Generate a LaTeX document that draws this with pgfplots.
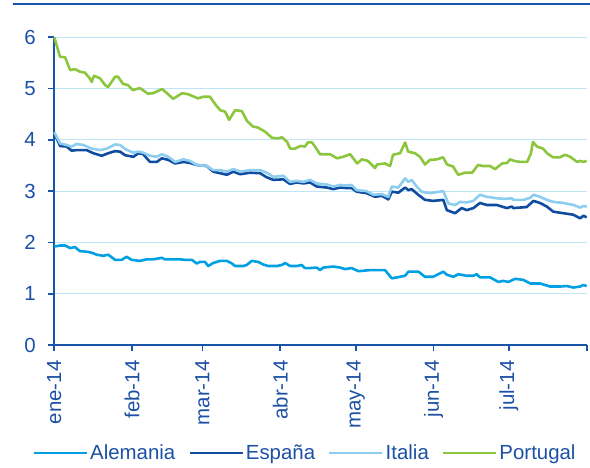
\documentclass[border=0pt]{standalone}
\usepackage{pgfplots}
\pgfplotsset{compat=1.18}
\usepackage{fontspec}
\setmainfont{Liberation Sans}
\definecolor{axblue}{RGB}{24,84,170}
\definecolor{txtblue}{RGB}{28,80,165}
\definecolor{gridblue}{RGB}{190,230,247}
\definecolor{cAle}{RGB}{0,160,227}
\definecolor{cEsp}{RGB}{16,76,160}
\definecolor{cIta}{RGB}{140,205,240}
\definecolor{cPor}{RGB}{140,198,63}
\begin{document}
\begin{tikzpicture}
\useasboundingbox (-54.3bp,-123bp) rectangle (535.7bp,345bp);
\draw[axblue, line width=2.2bp] (-41.3bp,341bp) -- (535.7bp,341bp);
\begin{axis}[
  at={(0,0)}, anchor=south west,
  scale only axis, width=532.4bp, height=307.7bp,
  xmin=0, xmax=212, ymin=0, ymax=6,
  axis x line*=bottom, axis y line*=left,
  axis line style={axblue, line width=1.8bp, -},
  xtick={0,31,59,90,120,151,181,212},
  xticklabels={ene-14,feb-14,mar-14,abr-14,may-14,jun-14,jul-14,{}},
  x tick label style={rotate=90, anchor=east},
  xticklabel shift=6bp,
  y tick label style={xshift=-9bp},
  ytick={0,1,2,3,4,5,6},
  tick align=outside, major tick length=6bp,
  tick style={axblue, line width=1.8bp},
  ymajorgrids, grid style={gridblue, line width=1.2bp},
  tick label style={font=\fontsize{20.5}{24}\selectfont, text=txtblue},
  /pgf/number format/assume math mode=true,
  legend columns=4,
  legend style={draw=none, fill=none, at={(0.471,-0.351)}, anchor=center,
    font=\fontsize{20.5}{24}\selectfont, text=txtblue,
    /tikz/every even column/.append style={column sep=11bp}},
  legend image code/.code={\draw[#1] (-2bp,0bp) -- (51bp,0bp);},
  every axis plot/.append style={line width=2.6bp, line join=round},
  clip=false,
]
\addplot[cAle] coordinates {
(0,1.92)(2.3,1.94)(4.3,1.94)(6.3,1.89)(8.2,1.91)(10.2,1.83)(12.9,1.82)(14.9,1.80)
(16.9,1.76)(19.5,1.74)(21.5,1.76)(24.2,1.66)(26.8,1.66)(28.8,1.72)(30.8,1.66)
(34.1,1.64)(36.8,1.67)(39.4,1.67)(42.8,1.70)(44.1,1.67)(47.4,1.67)(50.1,1.67)
(52.1,1.66)(54.8,1.66)(56.7,1.59)(58.0,1.62)(60.0,1.62)(61.3,1.54)(63.3,1.60)
(66.0,1.64)(68.7,1.64)(70.7,1.59)(72.0,1.54)(75.3,1.54)(76.6,1.56)(78.6,1.64)
(81.2,1.62)(83.2,1.57)(85.2,1.54)(88.6,1.54)(90.6,1.56)(91.9,1.60)(93.9,1.54)
(96.5,1.54)(98.5,1.56)(99.8,1.50)(101.8,1.50)(104.5,1.51)(105.8,1.46)(107.1,1.51)
(111.1,1.53)(113.8,1.51)(115.8,1.48)(118.4,1.50)(121.1,1.44)(125.7,1.46)(131.7,1.46)
(134.4,1.30)(137.7,1.33)(139.7,1.35)(141.0,1.43)(145.0,1.43)(147.6,1.33)(150.9,1.33)
(152.9,1.38)(154.9,1.43)(156.3,1.37)(158.9,1.33)(160.9,1.38)(164.2,1.35)(166.9,1.35)
(168.2,1.38)(169.5,1.32)(173.5,1.32)(176.8,1.23)(178.8,1.25)(180.8,1.23)(183.5,1.29)
(186.8,1.27)(189.5,1.20)(193.4,1.20)(197.4,1.14)(201.4,1.14)(204.1,1.15)(206.7,1.12)
(209.4,1.14)(210.7,1.17)(212.0,1.15)
};
\addlegendentry{Alemania}
\addplot[cEsp] coordinates {
(0,4.13)(2.3,3.88)(4.9,3.87)(6.9,3.79)(8.9,3.80)(12.9,3.80)(15.5,3.74)(18.9,3.69)
(21.5,3.74)(24.2,3.78)(26.2,3.77)(28.2,3.70)(31.5,3.67)(33.5,3.74)(35.4,3.72)
(38.1,3.57)(40.8,3.57)(42.8,3.64)(45.4,3.61)(48.1,3.54)(51.4,3.57)(54.0,3.55)
(56.7,3.51)(60.7,3.49)(63.3,3.38)(66.0,3.35)(68.7,3.32)(71.3,3.38)(74.0,3.33)
(77.9,3.36)(81.9,3.35)(84.6,3.27)(87.2,3.22)(91.2,3.23)(93.9,3.14)(96.5,3.17)
(99.2,3.15)(101.8,3.17)(104.5,3.09)(108.5,3.07)(111.1,3.04)(113.8,3.07)(116.4,3.06)
(118.4,3.06)(120.4,2.99)(124.4,2.96)(127.7,2.89)(130.4,2.91)(133.0,2.84)(134.4,2.99)
(137.0,2.97)(139.7,3.07)(141.0,3.02)(142.3,3.04)(144.9,2.93)(147.6,2.83)(150.9,2.81)
(154.9,2.83)(156.3,2.63)(159.6,2.57)(162.2,2.67)(164.2,2.63)(166.9,2.67)(169.5,2.77)
(172.2,2.73)(176.2,2.73)(180.2,2.67)(182.2,2.70)(182.8,2.67)(188.1,2.69)(190.8,2.81)
(193.4,2.77)(196.1,2.70)(198.7,2.60)(202.7,2.57)(206.7,2.54)(209.4,2.47)(210.7,2.52)
(212.0,2.49)
};
\addlegendentry{España}
\addplot[cIta] coordinates {
(0,4.15)(2.3,3.93)(4.9,3.90)(6.9,3.87)(8.9,3.92)(11.5,3.90)(14.9,3.83)(18.2,3.80)
(20.9,3.83)(24.2,3.91)(26.2,3.90)(28.2,3.82)(31.5,3.75)(33.5,3.77)(35.4,3.75)
(38.1,3.69)(40.8,3.67)(42.8,3.72)(45.4,3.67)(48.1,3.57)(51.4,3.62)(54.0,3.59)
(56.7,3.51)(60.7,3.49)(63.3,3.41)(66.0,3.41)(68.7,3.38)(71.3,3.43)(74.0,3.38)
(77.9,3.41)(81.9,3.41)(84.6,3.36)(87.2,3.28)(91.2,3.30)(93.9,3.18)(96.5,3.20)
(99.2,3.18)(101.8,3.22)(104.5,3.15)(108.5,3.13)(111.1,3.09)(113.8,3.12)(116.4,3.11)
(118.4,3.12)(120.4,3.02)(124.4,3.00)(127.0,2.93)(130.4,2.94)(133.0,2.89)(134.4,3.09)
(137.0,3.07)(139.7,3.25)(141.0,3.18)(142.3,3.22)(144.3,3.09)(146.3,2.99)(149.6,2.96)
(152.3,2.98)(154.9,3.00)(156.9,2.76)(159.6,2.73)(161.6,2.79)(164.2,2.78)(166.9,2.81)
(169.5,2.93)(172.2,2.89)(176.2,2.86)(179.5,2.85)(182.2,2.86)(182.8,2.83)(186.8,2.83)
(189.5,2.87)(190.8,2.93)(193.4,2.89)(196.1,2.83)(198.7,2.79)(202.7,2.77)(206.7,2.73)
(209.4,2.68)(210.7,2.71)(212.0,2.70)
};
\addlegendentry{Italia}
\addplot[cPor] coordinates {
(0,6.00)(2.3,5.62)(4.3,5.61)(6.3,5.36)(8.2,5.38)(10.2,5.33)(12.2,5.31)(14.1,5.20)
(14.9,5.13)(15.8,5.25)(18.2,5.20)(20.2,5.07)(21.4,5.03)(24.2,5.23)(25.4,5.23)
(27.4,5.09)(29.3,5.07)(31.3,4.97)(34.1,5.01)(37.3,4.90)(39.3,4.91)(42.9,4.99)
(44.9,4.91)(47.3,4.80)(50.9,4.91)(53.3,4.89)(57.2,4.81)(59.2,4.84)(62.0,4.84)
(64.0,4.70)(66.0,4.58)(68.0,4.55)(69.6,4.39)(72.0,4.58)(74.7,4.56)(76.7,4.37)
(79.1,4.26)(81.1,4.24)(83.9,4.16)(86.7,4.04)(89.1,4.03)(90.7,4.05)(92.7,3.96)
(93.9,3.83)(95.9,3.83)(97.9,3.88)(99.8,3.87)(101.0,3.95)(102.6,3.95)(103.8,3.87)
(105.8,3.72)(109.8,3.72)(112.6,3.64)(115.0,3.67)(117.8,3.72)(120.6,3.54)(122.5,3.62)
(124.9,3.59)(127.7,3.45)(128.5,3.52)(131.7,3.54)(133.7,3.49)(134.9,3.71)(137.7,3.74)
(139.7,3.95)(140.9,3.77)(143.6,3.74)(145.6,3.67)(147.6,3.52)(149.6,3.61)(152.4,3.62)
(154.8,3.66)(156.4,3.52)(158.8,3.48)(160.8,3.32)(163.6,3.36)(166.4,3.36)(168.7,3.51)
(170.7,3.49)(173.5,3.49)(175.5,3.43)(178.3,3.54)(180.3,3.55)(181.5,3.62)(183.1,3.59)
(185.5,3.57)(188.3,3.57)(189.8,3.74)(190.6,3.96)(192.2,3.87)(194.6,3.83)(196.2,3.74)
(198.6,3.66)(201.4,3.66)(203.4,3.71)(205.4,3.67)(208.2,3.57)(209.4,3.59)(210.6,3.57)
(212.0,3.59)
};
\addlegendentry{Portugal}
\end{axis}
\end{tikzpicture}
\end{document}
